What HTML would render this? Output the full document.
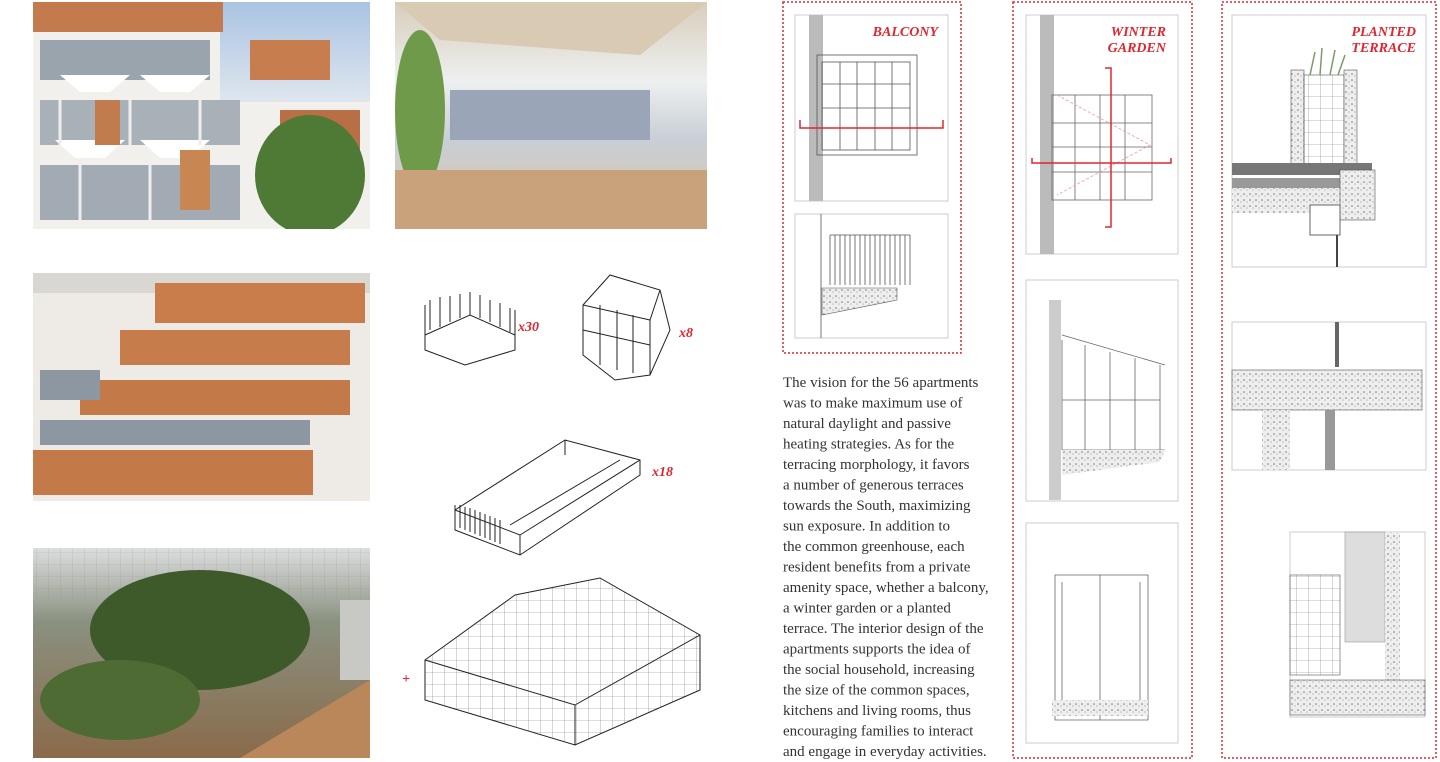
<!DOCTYPE html>
<html><head><meta charset="utf-8"><style>
html,body{margin:0;padding:0;background:#fff;width:1440px;height:762px;overflow:hidden}
svg{display:block}
.t{font-family:"Liberation Serif",serif;font-size:15px;fill:#333}
.lab{font-family:"Liberation Serif",serif;font-size:14px;font-weight:bold;font-style:italic;fill:#e0262f}
</style></head><body>
<svg width="1440" height="762" viewBox="0 0 1440 762" xmlns="http://www.w3.org/2000/svg">
<defs>
<linearGradient id="sky" x1="0" y1="0" x2="0" y2="1"><stop offset="0" stop-color="#a9c3e2"/><stop offset="1" stop-color="#dfe6ee"/></linearGradient>
<linearGradient id="int" x1="0" y1="0" x2="0" y2="1"><stop offset="0" stop-color="#d8cdbb"/><stop offset=".35" stop-color="#eef0f0"/><stop offset=".6" stop-color="#c8cfd6"/><stop offset="1" stop-color="#d9c2a4"/></linearGradient>
<linearGradient id="gh" x1="0" y1="0" x2="0" y2="1"><stop offset="0" stop-color="#dcdedf"/><stop offset=".35" stop-color="#8a9180"/><stop offset="1" stop-color="#8a6a4a"/></linearGradient>
<pattern id="grid" width="12" height="12" patternUnits="userSpaceOnUse"><path d="M12 0H0V12" fill="none" stroke="#777" stroke-width=".6"/></pattern>
<pattern id="dots" width="6" height="6" patternUnits="userSpaceOnUse"><rect width="6" height="6" fill="#eee"/><circle cx="2" cy="2" r=".8" fill="#777"/><circle cx="5" cy="4" r=".6" fill="#999"/></pattern>
<clipPath id="c1"><rect x="33" y="2" width="337" height="227"/></clipPath>
<clipPath id="c2"><rect x="395" y="2" width="312" height="227"/></clipPath>
<clipPath id="c3"><rect x="33" y="273" width="337" height="228"/></clipPath>
<clipPath id="c4"><rect x="33" y="548" width="337" height="210"/></clipPath>
</defs>
<!-- photo 1 -->
<g clip-path="url(#c1)">
<rect x="33" y="2" width="337" height="227" fill="#f2f0ec"/>
<rect x="220" y="2" width="150" height="100" fill="url(#sky)"/>
<rect x="33" y="2" width="190" height="30" fill="#c37a4c"/>
<rect x="250" y="40" width="80" height="40" fill="#c77d4d"/>
<rect x="40" y="40" width="170" height="40" fill="#9aa4ad"/>
<rect x="40" y="100" width="200" height="45" fill="#a9b1b8"/>
<rect x="40" y="165" width="200" height="55" fill="#a2abb3"/>
<polygon points="60,75 130,75 110,92 80,92" fill="#fff"/>
<polygon points="140,75 210,75 190,92 160,92" fill="#fff"/>
<polygon points="55,140 125,140 105,158 75,158" fill="#fff"/>
<polygon points="140,140 210,140 190,158 160,158" fill="#fff"/>
<path d="M60,100V145 M80,165V220 M130,100V145 M150,165V220 M200,100V145" stroke="#eee" stroke-width="3"/>
<rect x="95" y="100" width="25" height="45" fill="#c27b4c"/>
<rect x="180" y="150" width="30" height="60" fill="#c88652"/>
<rect x="280" y="110" width="80" height="50" fill="#b86f45"/>
<ellipse cx="310" cy="175" rx="55" ry="60" fill="#4f7a35"/>
</g>
<!-- photo 2 -->
<g clip-path="url(#c2)">
<rect x="395" y="2" width="312" height="227" fill="url(#int)"/>
<polygon points="395,2 707,2 640,55 440,40" fill="#d8cab3"/>
<rect x="450" y="90" width="200" height="50" fill="#9aa6b8"/>
<ellipse cx="420" cy="110" rx="25" ry="80" fill="#6f9a4a"/>
<ellipse cx="680" cy="200" rx="35" ry="30" fill="#789f55"/>
<rect x="395" y="170" width="312" height="59" fill="#c9a27b"/>
</g>
<!-- photo 3 -->
<g clip-path="url(#c3)">
<rect x="33" y="273" width="337" height="228" fill="#eeebe6"/>
<rect x="33" y="273" width="337" height="20" fill="#d9d7d2"/>
<rect x="155" y="283" width="210" height="40" fill="#c87d4b"/>
<rect x="120" y="330" width="230" height="35" fill="#c67c4b"/>
<rect x="80" y="380" width="270" height="35" fill="#c47a48"/>
<rect x="33" y="450" width="280" height="45" fill="#c47a48"/>
<rect x="40" y="420" width="270" height="25" fill="#8c97a2"/>
<rect x="40" y="370" width="60" height="30" fill="#8c97a2"/>
</g>
<!-- photo 4 -->
<g clip-path="url(#c4)">
<rect x="33" y="548" width="337" height="210" fill="url(#gh)"/>
<rect x="33" y="548" width="337" height="50" fill="url(#grid)" opacity=".4"/>
<ellipse cx="200" cy="630" rx="110" ry="60" fill="#3f5a2a"/>
<ellipse cx="120" cy="700" rx="80" ry="40" fill="#4f6b34"/>
<polygon points="240,758 370,680 370,758" fill="#b9875a"/>
<rect x="340" y="600" width="30" height="80" fill="#c8c8c4"/>
</g>
<!-- axonometrics -->
<g fill="none" stroke="#222" stroke-width="1">
<polygon points="425,335 470,315 515,335 515,350 465,365 425,350"/>
<path d="M425,335 V305 M470,315 V292 M515,335 V310"/>
<path d="M430,330 V300 M440,327 V297 M450,322 V296 M460,318 V294 M480,318 V295 M490,322 V300 M500,327 V303 M510,332 V308"/>
<polygon points="583,305 610,275 660,290 670,330 650,375 615,380 583,355"/>
<path d="M583,305 L650,320 L660,290 M650,320 V375 M583,330 L650,345 M600,305 V365 M617,310 V370 M633,315 V373"/>
<polygon points="455,510 565,440 640,460 640,475 520,555 455,530"/>
<path d="M455,510 L520,535 L640,460 M520,535 V555 M565,440 V455 M510,525 L620,460"/>
<path d="M455,505 V525 M460,505 V528 M465,507 V530 M470,508 V532 M475,510 V534 M480,512 V536 M485,514 V538 M490,516 V540 M495,518 V542 M500,520 V544"/>
<polygon points="425,660 515,595 600,578 700,635 700,690 575,745 425,700" fill="url(#grid)"/>
<path d="M425,660 L575,705 L700,635 M575,705 V745"/>
</g>
<text x="518" y="331" class="lab">x30</text>
<text x="679" y="337" class="lab">x8</text>
<text x="652" y="476" class="lab">x18</text>
<text x="402" y="683" class="lab">+</text>
<!-- text -->
<text class="t">
<tspan x="783" y="387">The vision for the 56 apartments</tspan>
<tspan x="783" y="407.5">was to make maximum use of</tspan>
<tspan x="783" y="428">natural daylight and passive</tspan>
<tspan x="783" y="448.5">heating strategies. As for the</tspan>
<tspan x="783" y="469">terracing morphology, it favors</tspan>
<tspan x="783" y="489.5">a number of generous terraces</tspan>
<tspan x="783" y="510">towards the South, maximizing</tspan>
<tspan x="783" y="530.5">sun exposure. In addition to</tspan>
<tspan x="783" y="551">the common greenhouse, each</tspan>
<tspan x="783" y="571.5">resident benefits from a private</tspan>
<tspan x="783" y="592">amenity space, whether a balcony,</tspan>
<tspan x="783" y="612.5">a winter garden or a planted</tspan>
<tspan x="783" y="633">terrace. The interior design of the</tspan>
<tspan x="783" y="653.5">apartments supports the idea of</tspan>
<tspan x="783" y="674">the social household, increasing</tspan>
<tspan x="783" y="694.5">the size of the common spaces,</tspan>
<tspan x="783" y="715">kitchens and living rooms, thus</tspan>
<tspan x="783" y="735.5">encouraging families to interact</tspan>
<tspan x="783" y="756">and engage in everyday activities.</tspan>
</text>
<!-- dotted frames -->
<g fill="none" stroke="#e0262f" stroke-width="1.5" stroke-dasharray="2,2">
<rect x="783" y="2" width="178" height="351"/>
<rect x="1013" y="2" width="179" height="756"/>
<rect x="1222" y="2" width="214" height="756"/>
</g>
<!-- inner boxes -->
<g fill="none" stroke="#ccc" stroke-width="1">
<rect x="795" y="15" width="153" height="186"/>
<rect x="795" y="214" width="153" height="124"/>
<rect x="1026" y="15" width="152" height="239"/>
<rect x="1026" y="280" width="152" height="221"/>
<rect x="1026" y="523" width="152" height="220"/>
<rect x="1232" y="15" width="194" height="252"/>
<rect x="1232" y="322" width="194" height="148"/>
<rect x="1290" y="532" width="135" height="185"/>
</g>
<!-- balcony drawings -->
<rect x="809" y="15" width="14" height="186" fill="#bbb"/>
<g fill="none" stroke="#555" stroke-width=".8">
<rect x="817" y="55" width="100" height="100"/><rect x="822" y="62" width="88" height="88"/>
<path d="M840,62V150 M857,62V150 M875,62V150 M892,62V150 M822,84H910 M822,108H910"/>
<path d="M830,235V285 M835,235V285 M840,235V285 M845,235V285 M850,235V285 M855,235V285 M860,235V285 M865,235V285 M870,235V285 M875,235V285 M880,235V285 M885,235V285 M890,235V285 M895,235V285 M900,235V285 M905,235V285 M910,235V285 M830,235H910"/>
<path d="M821,214V338"/>
</g>
<polygon points="822,288 897,288 897,300 822,315" fill="url(#dots)" stroke="#555" stroke-width=".6"/>
<path d="M800,120V128H943V120" fill="none" stroke="#e0262f" stroke-width="1.5"/>
<text x="938" y="36" class="lab" text-anchor="end">BALCONY</text>
<!-- winter garden -->
<rect x="1040" y="15" width="14" height="239" fill="#bbb"/>
<rect x="1049" y="300" width="12" height="200" fill="#ccc"/>
<g fill="none" stroke="#666" stroke-width=".8">
<rect x="1052" y="95" width="100" height="105"/>
<path d="M1075,95V200 M1100,95V200 M1125,95V200 M1052,123H1152 M1052,147H1152 M1052,172H1152"/>
<path d="M1057,95 L1150,145 L1057,195" stroke="#e99" stroke-dasharray="3,2"/>
<path d="M1062,335 L1165,365 M1062,340V450 M1085,345V450 M1110,352V450 M1135,358V450 M1160,365V450 M1062,400H1160 M1062,450H1165"/>
<path d="M1055,575H1148V720H1055Z M1100,575V720 M1062,582V715 M1140,582V715"/>
</g>
<polygon points="1062,450 1165,450 1160,462 1062,475" fill="url(#dots)"/>
<rect x="1052" y="700" width="96" height="16" fill="url(#dots)"/>
<path d="M1032,158V163H1171V158" fill="none" stroke="#e0262f" stroke-width="1.5"/>
<path d="M1105,68H1111V227H1105" fill="none" stroke="#e0262f" stroke-width="1.5"/>
<text x="1166" y="36" class="lab" text-anchor="end">WINTER</text>
<text x="1166" y="52" class="lab" text-anchor="end">GARDEN</text>
<!-- planted terrace -->
<rect x="1291" y="70" width="13" height="100" fill="url(#dots)" stroke="#555" stroke-width=".6"/>
<rect x="1304" y="75" width="40" height="95" fill="url(#grid)" stroke="#555" stroke-width=".6"/>
<rect x="1344" y="70" width="13" height="100" fill="url(#dots)" stroke="#555" stroke-width=".6"/>
<path d="M1310,75 L1315,52 M1320,75 L1322,48 M1330,75 L1335,50 M1338,75 L1345,55" stroke="#7a9a6a" stroke-width="1.5"/>
<rect x="1232" y="163" width="140" height="12" fill="#777"/>
<rect x="1232" y="178" width="140" height="10" fill="#999"/>
<rect x="1232" y="188" width="110" height="25" fill="url(#dots)"/>
<rect x="1340" y="170" width="35" height="50" fill="url(#dots)" stroke="#555" stroke-width=".6"/>
<rect x="1310" y="205" width="30" height="30" fill="#fff" stroke="#666"/>
<path d="M1337,235V267" stroke="#444" stroke-width="2"/>
<rect x="1335" y="322" width="4" height="45" fill="#666"/>
<rect x="1232" y="370" width="190" height="40" fill="url(#dots)" stroke="#555" stroke-width=".6"/>
<rect x="1262" y="410" width="28" height="60" fill="url(#dots)"/>
<rect x="1325" y="410" width="10" height="60" fill="#999"/>
<rect x="1345" y="532" width="40" height="110" fill="#ddd" stroke="#999" stroke-width=".6"/>
<rect x="1290" y="575" width="50" height="100" fill="url(#grid)" stroke="#555" stroke-width=".6"/>
<rect x="1385" y="532" width="15" height="160" fill="url(#dots)"/>
<rect x="1290" y="680" width="135" height="35" fill="url(#dots)" stroke="#555" stroke-width=".6"/>
<text x="1416" y="36" class="lab" text-anchor="end">PLANTED</text>
<text x="1416" y="52" class="lab" text-anchor="end">TERRACE</text>
</svg>
</body></html>
